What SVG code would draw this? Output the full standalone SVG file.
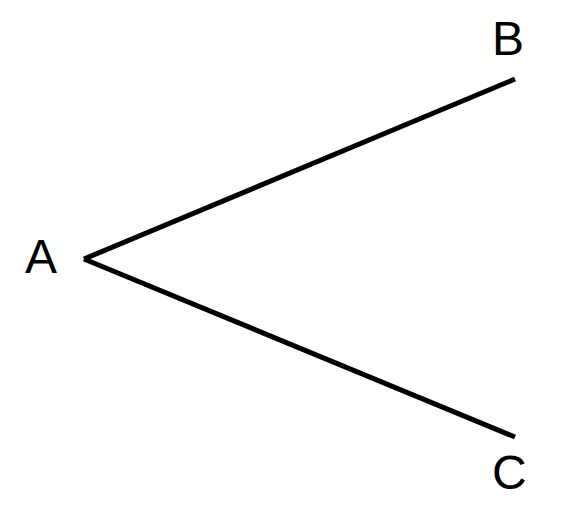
<svg xmlns="http://www.w3.org/2000/svg" width="565" height="507" viewBox="0 0 565 507">
<style>
.lbl{font-family:"Liberation Sans",Arial,sans-serif;font-size:48px;fill:#000}
.edge{stroke:#000;stroke-width:5;fill:none;stroke-linecap:butt}
</style>
<rect width="565" height="507" fill="#fff"/>
<g id="connectors">
<line class="edge" x1="84" y1="259" x2="515" y2="79"/>
<line class="edge" x1="84" y1="259" x2="515" y2="437"/>
</g>
<g id="node-A"><text class="lbl" x="25" y="273">A</text></g>
<g id="node-B"><text class="lbl" x="492" y="55">B</text></g>
<g id="node-C"><text class="lbl" x="492" y="489">C</text></g>
</svg>
